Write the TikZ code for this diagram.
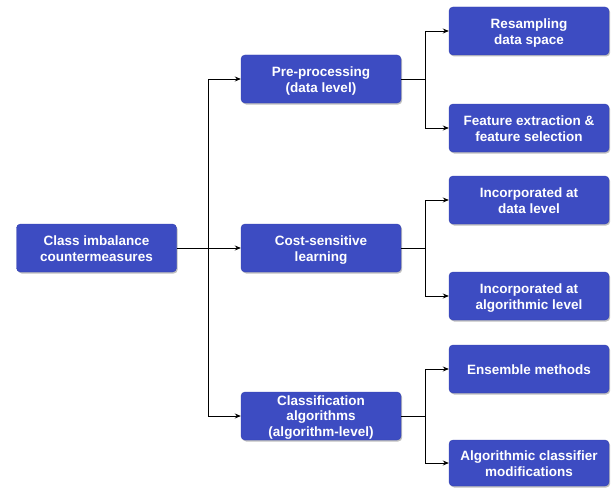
\documentclass[tikz,border=0pt]{standalone}
\usepackage{fontspec}
\setmainfont{Liberation Sans}
\usetikzlibrary{arrows.meta,shadows}
\definecolor{boxblue}{RGB}{61,76,194}
\definecolor{boxedge}{RGB}{52,66,176}
\newcommand{\bxtext}[1]{\begin{tabular}{@{}c@{}}\rule{0pt}{16pt}#1\end{tabular}}
\newcommand{\bxtextc}[1]{\begin{tabular}{@{}c@{}}\rule{0pt}{14.5pt}#1\end{tabular}}
\tikzset{
  box/.style={draw=boxedge, fill=boxblue, rounded corners=4pt, text=white,
    font=\fontsize{13.5}{15.7}\selectfont\bfseries,
    minimum width=160pt, minimum height=48pt, inner xsep=1pt, inner ysep=0pt,
    drop shadow={shadow xshift=1.2pt, shadow yshift=-1.5pt, opacity=0.25, fill=black}},
  conn/.style={draw=black, line width=0.8pt},
  arr/.style={conn, -{Stealth[length=6pt,width=5pt]}}
}
\begin{document}
\begin{tikzpicture}[x=1pt,y=-1pt]
\useasboundingbox (0,0) rectangle (615,487);
\node[box] (root) at (96.5,248) {\bxtext{Class imbalance\\countermeasures}};
\node[box] (pre) at (321,79) {\bxtext{Pre-processing\\(data level)}};
\node[box] (cost) at (321,248) {\bxtext{Cost-sensitive\\learning}};
\node[box, inner ysep=-1.8pt] (cls) at (321,416) {\bxtextc{Classification\\algorithms\\(algorithm-level)}};
\node[box] (res) at (529,31) {\bxtext{Resampling\\data space}};
\node[box] (feat) at (529,128) {\bxtext{Feature extraction \&\\feature selection}};
\node[box] (incd) at (529,200) {\bxtext{Incorporated at\\data level}};
\node[box] (inca) at (529,296) {\bxtext{Incorporated at\\algorithmic level}};
\node[box] (ens) at (529,369) {\bxtext{Ensemble methods}};
\node[box, minimum height=46pt] (alg) at (529,463) {\bxtext{Algorithmic classifier\\modifications}};
\coordinate (j0) at (208,248);
\coordinate (j1) at (425,79);
\coordinate (j2) at (425,248);
\coordinate (j3) at (425,416);
\draw[conn] (root.east) -- (j0);
\draw[arr] (j0) |- (pre.west);
\draw[arr] (j0) -- (cost.west);
\draw[arr] (j0) |- (cls.west);
\draw[conn] (pre.east) -- (j1);
\draw[arr] (j1) |- (res.west);
\draw[arr] (j1) |- (feat.west);
\draw[conn] (cost.east) -- (j2);
\draw[arr] (j2) |- (incd.west);
\draw[arr] (j2) |- (inca.west);
\draw[conn] (cls.east) -- (j3);
\draw[arr] (j3) |- (ens.west);
\draw[arr] (j3) |- (alg.west);
\end{tikzpicture}
\end{document}
